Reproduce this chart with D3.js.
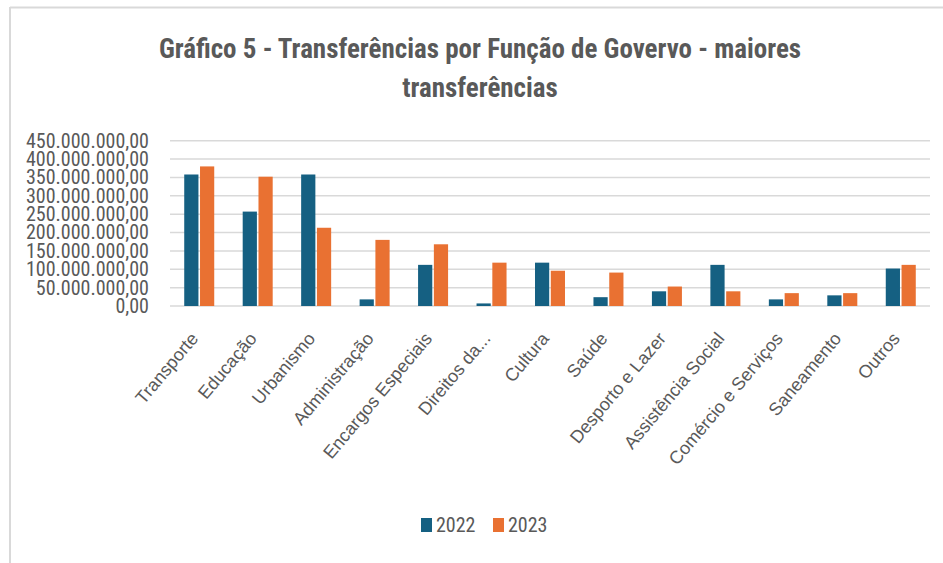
<!DOCTYPE html>
<html>
<head>
<meta charset="utf-8">
<script src="https://cdn.jsdelivr.net/npm/d3@7"></script>
<style>
  body { margin: 0; background: #fff; }
  text { fill: #595959; }
</style>
</head>
<body>
<div id="chart"></div>
<script>
// Data
const categories = ["Transporte", "Educação", "Urbanismo", "Administração", "Encargos Especiais",
  "Direitos da...", "Cultura", "Saúde", "Desporto e Lazer", "Assistência Social",
  "Comércio e Serviços", "Saneamento", "Outros"];
const values2022 = [358e6, 257e6, 358e6, 18e6, 112e6, 7e6, 118e6, 24e6, 40e6, 112e6, 18e6, 29e6, 102e6];
const values2023 = [380e6, 352e6, 213e6, 180e6, 168e6, 118e6, 96e6, 91e6, 53e6, 40e6, 35e6, 35e6, 112e6];
const series = ["2022", "2023"];
const yTicks = [0, 50e6, 100e6, 150e6, 200e6, 250e6, 300e6, 350e6, 400e6, 450e6];

const colors = {"2022": "#156082", "2023": "#e97132"};
const narrow = "'Roboto Condensed', 'Liberation Sans Narrow', sans-serif";

const totalWidth = 943, totalHeight = 563;
const margin = {top: 140.7, left: 170, right: 13, bottom: 257};
const width = totalWidth - margin.left - margin.right,
    height = totalHeight - margin.top - margin.bottom;

const svg = d3.select("#chart").append("svg")
    .attr("width", totalWidth)
    .attr("height", totalHeight);

// frame
svg.append("line").attr("x1", 10).attr("x2", 943).attr("y1", 7.5).attr("y2", 7.5)
    .attr("stroke", "#d9d9d9").attr("stroke-width", 2);
svg.append("line").attr("x1", 10).attr("x2", 10).attr("y1", 7).attr("y2", 563)
    .attr("stroke", "#d9d9d9").attr("stroke-width", 2);

// title
const title = svg.append("text")
    .attr("text-anchor", "middle")
    .style("font-family", narrow)
    .style("font-weight", "bold")
    .style("font-size", "27px");
title.append("tspan").attr("x", 480).attr("y", 58).text("Gráfico 5 - Transferências por Função de Govervo - maiores");
title.append("tspan").attr("x", 480).attr("y", 97).text("transferências");

const g = svg.append("g")
    .attr("transform", "translate(" + margin.left + "," + margin.top + ")");

const x = d3.scaleBand().domain(categories).range([0, width]);
const x1 = d3.scaleBand().domain(series).range([0, 30]).paddingInner(0.1);

const y = d3.scaleLinear().domain([0, 450e6]).range([height, 0]);

// gridlines
g.append("g")
  .selectAll("line")
  .data(yTicks)
  .join("line")
    .attr("x1", 0).attr("x2", width)
    .attr("y1", d => y(d)).attr("y2", d => y(d))
    .attr("stroke", "#d9d9d9").attr("stroke-width", 1.5);

// y axis labels
const fmt = d => d3.format(",.2f")(d).replace(/,/g, "#").replace(/\./g, ",").replace(/#/g, ".");
const yAxis = g.append("g")
    .call(d3.axisLeft(y).tickValues(yTicks).tickFormat(fmt).tickSize(0).tickPadding(21));
yAxis.select(".domain").remove();
yAxis.selectAll("text")
    .style("font-family", narrow)
    .style("font-size", "20px")
    .attr("fill", "#595959");

// bars
const rows = categories.map((c, i) => ({cat: c, "2022": values2022[i], "2023": values2023[i]}));
const groups = g.selectAll(".grp")
  .data(rows)
  .join("g")
    .attr("class", "grp")
    .attr("transform", d => "translate(" + (x(d.cat) + x.bandwidth() / 2 - 15) + ",0)");

groups.selectAll("rect")
  .data(d => series.map(s => ({key: s, value: d[s]})))
  .join("rect")
    .attr("x", d => x1(d.key))
    .attr("width", x1.bandwidth())
    .attr("y", d => y(d.value))
    .attr("height", d => height - y(d.value))
    .attr("fill", d => colors[d.key]);

// x labels
const xAxis = g.append("g")
    .attr("transform", "translate(0," + height + ")")
    .call(d3.axisBottom(x).tickSize(0).tickPadding(0));
xAxis.select(".domain").remove();
xAxis.selectAll("text")
    .style("font-family", "'Liberation Sans', sans-serif")
    .style("font-size", "18px")
    .attr("fill", "#595959")
    .attr("text-anchor", "end")
    .attr("dy", "0")
    .attr("transform", "translate(0,33) rotate(-50)");

// legend
const legend = svg.append("g").attr("transform", "translate(421,518)");
series.forEach((s, i) => {
  const lg = legend.append("g").attr("transform", "translate(" + (i * 72) + ",0)");
  lg.append("rect").attr("width", 11).attr("height", 14).attr("fill", colors[s]);
  lg.append("text").attr("x", 15).attr("y", 14)
    .style("font-family", narrow)
    .style("font-size", "20px")
    .text(s);
});
</script>
</body>
</html>
